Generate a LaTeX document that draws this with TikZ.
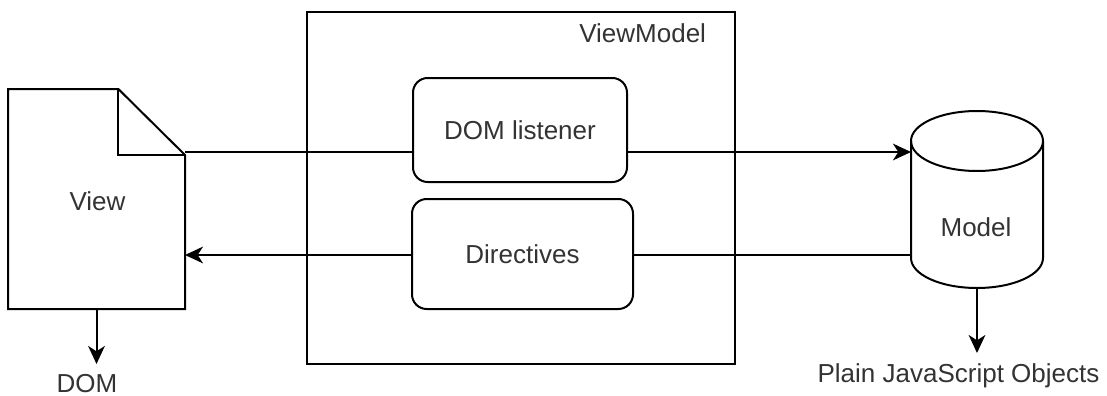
\documentclass[tikz,border=0pt]{standalone}
\usepackage{fontspec}
\setmainfont{Liberation Sans}
\usetikzlibrary{arrows.meta}
\begin{document}
\begin{tikzpicture}[
  x=0.75pt, y=-0.75pt,
  line width=1.5pt,
  txt/.style={text=black!80, font=\fontsize{19.5}{23}\selectfont, inner sep=0pt},
  shapebox/.style={inner sep=0pt, outer sep=0pt},
  roundbox/.style={draw, rounded corners=11pt, fill=white, txt, outer sep=0pt},
  arr/.style={-{Stealth[length=13.5pt, width=12.5pt, inset=4pt]}},
]
\useasboundingbox (0,0) rectangle (1107,396);

% rows of the two data-flow connectors
\coordinate (rowA) at (0,152);
\coordinate (rowB) at (0,255);

% ViewModel container
\node[draw, shapebox, minimum width=321pt, minimum height=264pt] (vm) at (521,188) {};
\node[txt, anchor=base east] (vmlabel) at (707,42) {ViewModel};

% inner boxes
\node[roundbox, minimum width=160.5pt, minimum height=78pt] (dl) at (520,130) {DOM listener};
\node[roundbox, minimum width=165.75pt, minimum height=82.5pt] (dir) at (522.5,254) {Directives};

% View: page with a folded corner
\node[shapebox, minimum width=132.75pt, minimum height=165pt] (view) at (96.5,199) {};
\draw[line join=miter] (view.north west) -- ([xshift=-50pt]view.north east)
  -- ([yshift=-49.5pt]view.north east) -- (view.south east) -- (view.south west) -- cycle;
\draw ([xshift=-50pt]view.north east) |- ([yshift=-49.5pt]view.north east);
\node[txt] (viewtext) at (97.5,201) {View};

% Model: cylinder
\node[shapebox, minimum width=99pt, minimum height=132.75pt] (model) at (977,199.5) {};
\draw (977,141) ellipse [x radius=49.5pt, y radius=22.5pt];
\draw (911,141) -- (911,258) arc [start angle=180, end angle=360, x radius=49.5pt, y radius=22.5pt] -- (1043,141);
\node[txt] (modeltext) at (976,227) {Model};

% outputs
\node[txt, anchor=base] (dom) at (87,392) {DOM};
\coordinate (domtip) at (view.south |- 0,364);
\node[txt, anchor=base] (plain) at (958.5,382) {Plain JavaScript Objects};
\coordinate (plaintip) at (model.south |- 0,353);

% connectors
\draw (view.east |- rowA) -- (dl.west |- rowA);
\draw[arr] (dl.east |- rowA) -- (model.west |- rowA);
\draw (model.west |- rowB) -- (dir.east |- rowB);
\draw[arr] (dir.west |- rowB) -- (view.east |- rowB);
\draw[arr] (view.south) -- (domtip);
\draw[arr] (model.south) -- (plaintip);
\end{tikzpicture}
\end{document}
